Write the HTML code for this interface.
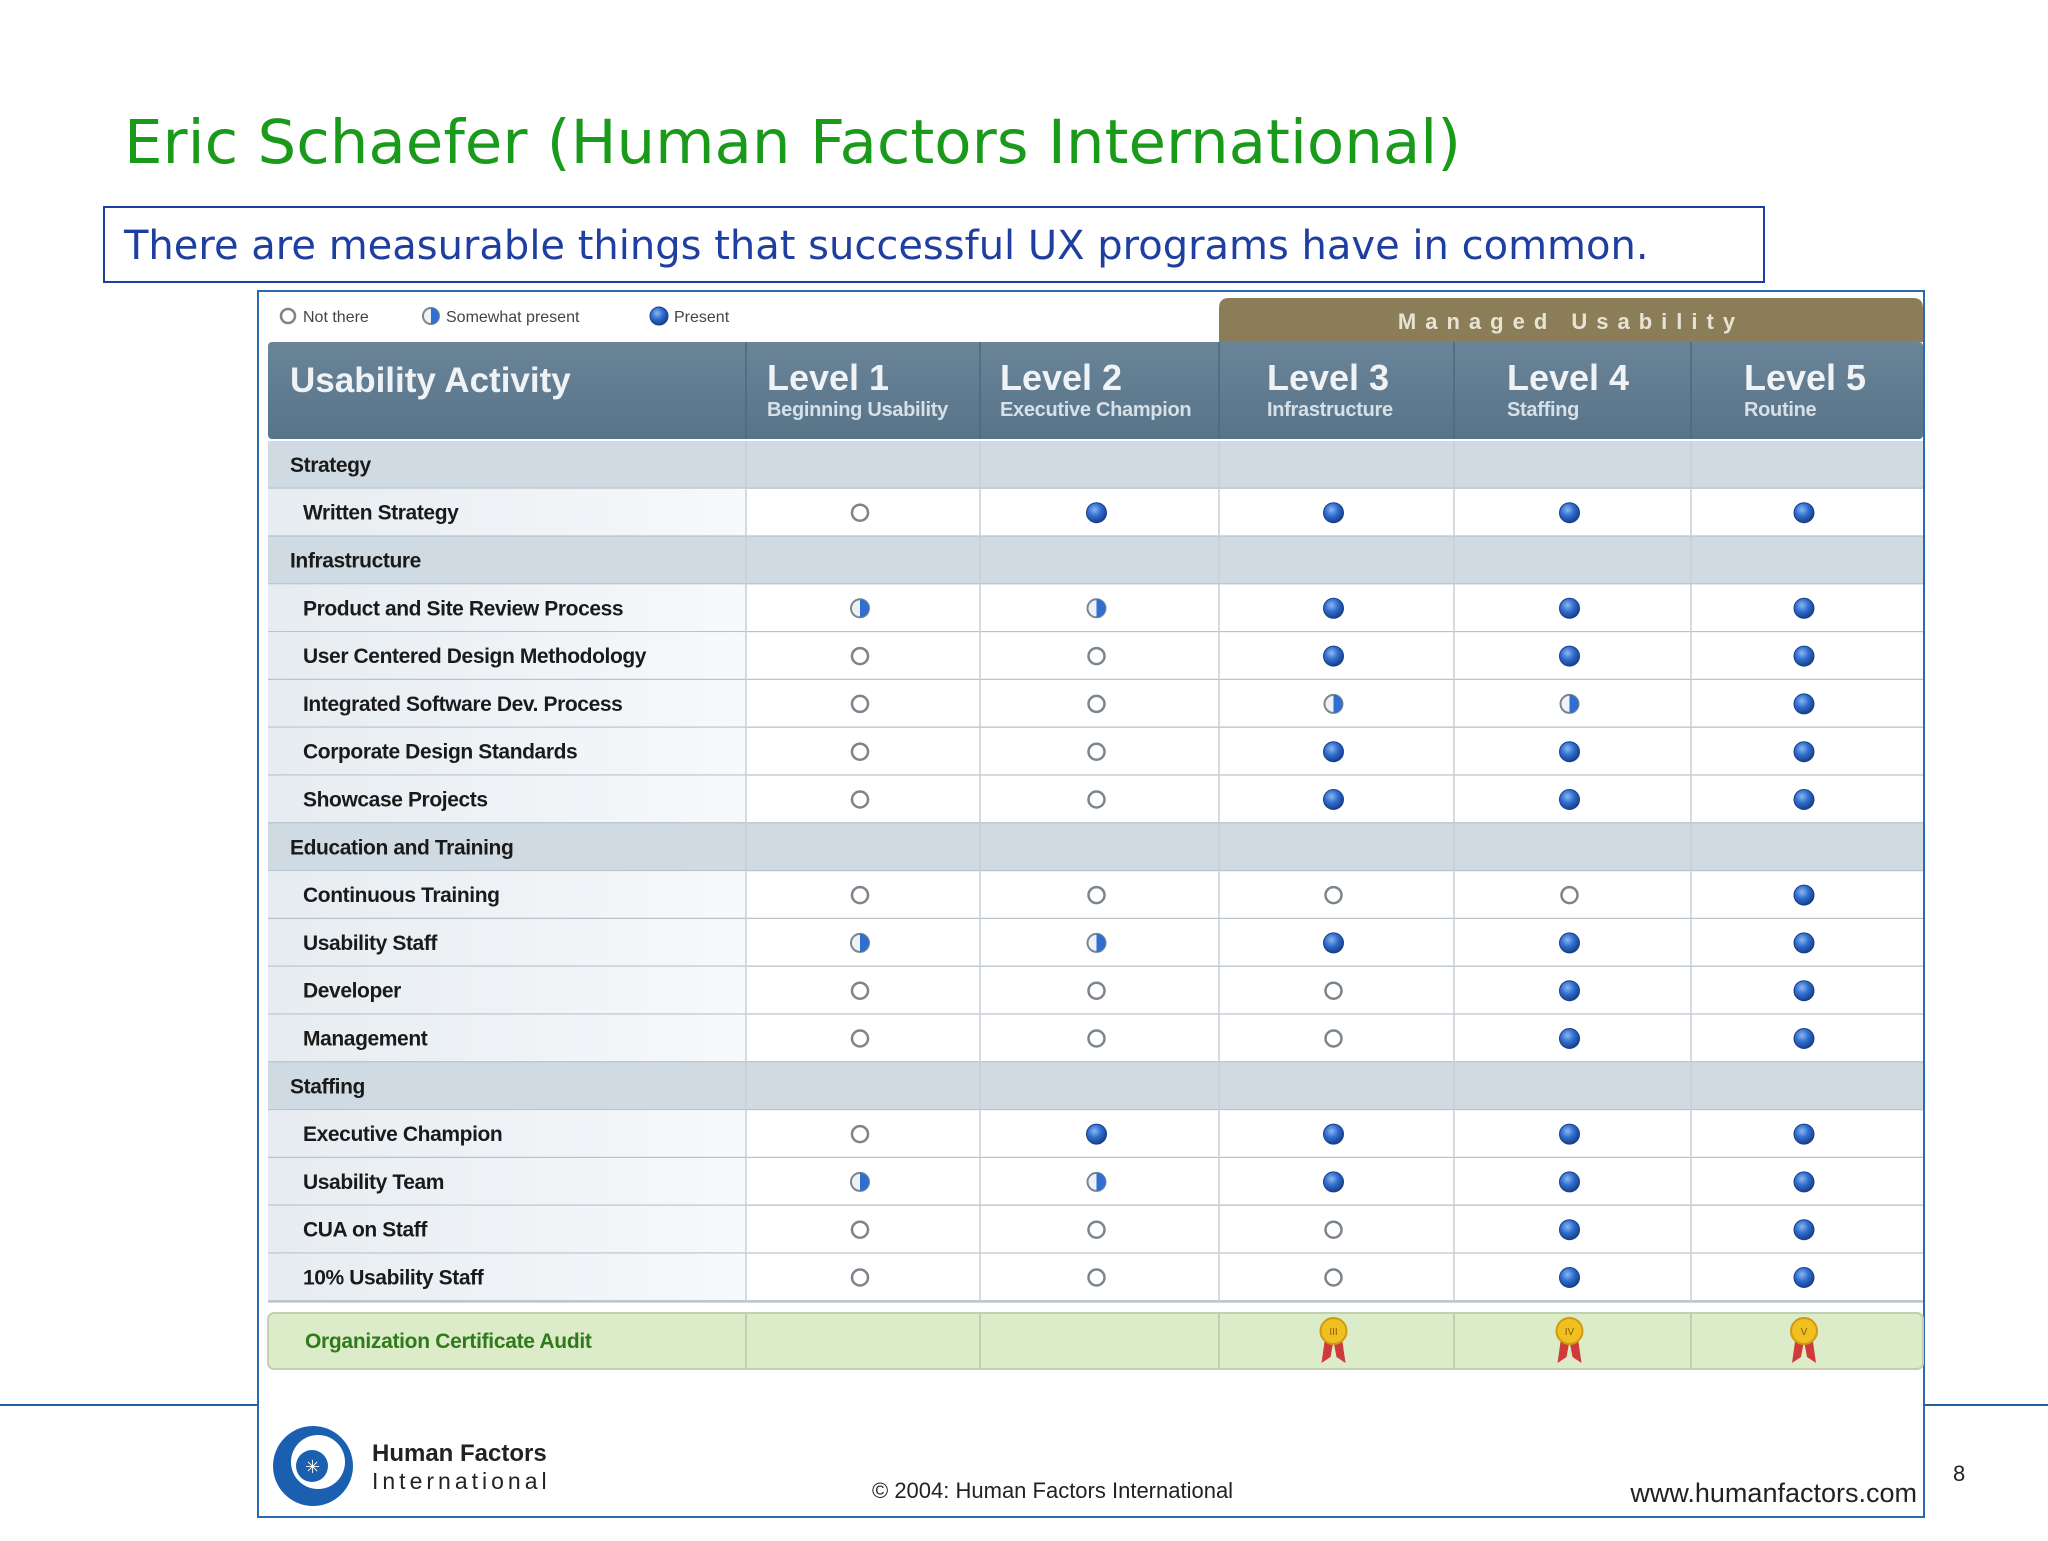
<!DOCTYPE html>
<html><head><meta charset="utf-8"><style>
html,body{margin:0;padding:0;background:#fff;}
body{width:2048px;height:1536px;position:relative;overflow:hidden;font-family:"Liberation Sans",sans-serif;}
</style></head><body>
<svg id="s" width="2048" height="1536" viewBox="0 0 2048 1536" xmlns="http://www.w3.org/2000/svg">
<defs>
<radialGradient id="blue" cx="40%" cy="35%" r="65%"><stop offset="0" stop-color="#8fb6f0"/><stop offset="0.5" stop-color="#2f6fd0"/><stop offset="1" stop-color="#1a3f8a"/></radialGradient>
<linearGradient id="hdr" x1="0" y1="0" x2="0" y2="1"><stop offset="0" stop-color="#6a8498"/><stop offset="1" stop-color="#587489"/></linearGradient>
<linearGradient id="lbl" x1="0" y1="0" x2="1" y2="0"><stop offset="0" stop-color="#e6ecf1"/><stop offset="1" stop-color="#f7f9fb"/></linearGradient>
</defs>
<text x="124" y="163" font-family="'DejaVu Sans',sans-serif" font-size="61" fill="#1a9a1a">Eric Schaefer (Human Factors International)</text>
<rect x="104" y="207" width="1660" height="75" fill="#fff" stroke="#1f3fa0" stroke-width="2"/>
<text x="124" y="259" font-family="'DejaVu Sans',sans-serif" font-size="40" fill="#1f3fa0">There are measurable things that successful UX programs have in common.</text>
<line x1="0" y1="1405" x2="258" y2="1405" stroke="#1f5fa0" stroke-width="2"/>
<line x1="1924" y1="1405" x2="2048" y2="1405" stroke="#1f5fa0" stroke-width="2"/>
<rect x="258" y="291" width="1666" height="1226" fill="#fff" stroke="#2a6ab0" stroke-width="2"/>
<text x="1953" y="1481" font-size="22" fill="#222">8</text>
<g id="tbl"></g>
<g>
<circle cx="313" cy="1466" r="40" fill="#1a5fb0"/>
<circle cx="318" cy="1462" r="27" fill="#fff"/>
<circle cx="312" cy="1466" r="16" fill="#1a5fb0"/>
<text x="305" y="1473" font-size="18" fill="#fff">✳</text>
</g>
<text x="372" y="1461" font-size="24" font-weight="bold" fill="#222">Human Factors</text>
<text x="372" y="1489" font-size="23" letter-spacing="4" fill="#222">International</text>
<text x="872" y="1498" font-size="22" fill="#222">© 2004: Human Factors International</text>
<text x="1917" y="1502" font-size="27" text-anchor="end" fill="#222">www.humanfactors.com</text>
</svg>
<script>
const levels = ["Level 1","Level 2","Level 3","Level 4","Level 5"];
const levelSubs = ["Beginning Usability","Executive Champion","Infrastructure","Staffing","Routine"];
const rowLabels = ["Strategy","Written Strategy","Infrastructure","Product and Site Review Process","User Centered Design Methodology","Integrated Software Dev. Process","Corporate Design Standards","Showcase Projects","Education and Training","Continuous Training","Usability Staff","Developer","Management","Staffing","Executive Champion","Usability Team","CUA on Staff","10% Usability Staff"];
const isSection = [1,0,1,0,0,0,0,0,1,0,0,0,0,1,0,0,0,0];
// 0 = not there, 1 = somewhat present, 2 = present, -1 = section row
const values = [
[-1,-1,-1,-1,-1],[0,2,2,2,2],[-1,-1,-1,-1,-1],[1,1,2,2,2],[0,0,2,2,2],[0,0,1,1,2],[0,0,2,2,2],[0,0,2,2,2],
[-1,-1,-1,-1,-1],[0,0,0,0,2],[1,1,2,2,2],[0,0,0,2,2],[0,0,0,2,2],
[-1,-1,-1,-1,-1],[0,2,2,2,2],[1,1,2,2,2],[0,0,0,2,2],[0,0,0,2,2]];
const certLevels = ["III","IV","V"];
const certStart = 2;

const NS="http://www.w3.org/2000/svg";
const g=document.getElementById('tbl');
function el(t,a,p){const e=document.createElementNS(NS,t);for(const k in a)e.setAttribute(k,a[k]);(p||g).appendChild(e);return e;}
const L=268,R=1923,colX=[268,746,980,1219,1454,1691,1923];
const hTop=342,hBot=439,rowH=47.8,r0=441;
function colC(i){return (colX[i+1]+colX[i+2])/2-3;}
function rowY(i){return r0+i*rowH;}
let e=el('path',{d:`M${colX[3]} ${hTop} L${colX[3]} 308 Q${colX[3]} 298 ${colX[3]+10} 298 L${R-10} 298 Q${R} 298 ${R} 308 L${R} ${hTop} Z`,fill:'#8b7d58'});

e=el('text',{x:(colX[3]+R)/2,y:329,'font-size':22,'font-weight':'bold','letter-spacing':9,fill:'#e8e4d4','text-anchor':'middle'});e.textContent='Managed Usability';

const leg=[["Not there",278,0],["Somewhat present",421,1],["Present",649,2]];
leg.forEach(l=>{drawDot(l[1]+10,316,l[2],9);const t=el('text',{x:l[1]+25,y:322,'font-size':16,fill:'#444'});t.textContent=l[0];
});
e=el('rect',{x:L,y:hTop,width:R-L,height:hBot-hTop,fill:'url(#hdr)',rx:4});

e=el('text',{x:290,y:392,'font-size':35,'font-weight':'bold',fill:'#f0f3f6'});e.textContent='Usability Activity';

const lx=[767,1000,1267,1507,1744];
levels.forEach((lv,i)=>{let t=el('text',{x:lx[i],y:390,'font-size':36,'font-weight':'bold',fill:'#f0f3f6'});t.textContent=lv;

t=el('text',{x:lx[i],y:416,'font-size':20,'font-weight':'bold',fill:'#d7e0e7','letter-spacing':-0.3});t.textContent=levelSubs[i];
});
for(let c=1;c<6;c++){el('line',{x1:colX[c],y1:hTop,x2:colX[c],y2:hBot,stroke:'#4f687b','stroke-width':1.5});}
rowLabels.forEach((lab,i)=>{const y=rowY(i);
 if(isSection[i]){e=el('rect',{x:L,y:y,width:R-L,height:rowH,fill:'#cfdae2'});}
 else{el('rect',{x:L,y:y,width:R-L,height:rowH,fill:'#fff'});e=el('rect',{x:L,y:y,width:colX[1]-L,height:rowH,fill:'url(#lbl)'});}
 
 el('line',{x1:L,y1:y+rowH,x2:R,y2:y+rowH,stroke:'#b9c3cb','stroke-width':2.5});
 const t=el('text',{x:isSection[i]?290:303,y:y+rowH/2+7,'font-size':21,'font-weight':'bold',fill:'#1a1a1a','letter-spacing':-0.4});
 t.textContent=lab;
 values[i].forEach((v,c)=>{if(v>=0)drawDot(colC(c),y+rowH/2,v,10);});
});
for(let c=1;c<6;c++){el('line',{x1:colX[c],y1:r0,x2:colX[c],y2:rowY(rowLabels.length),stroke:'#c7cfd6','stroke-width':1.5});}
const cy=1313;
e=el('rect',{x:L,y:cy,width:R-L,height:56,fill:'#dcebc8',stroke:'#c2d0b0','stroke-width':2,rx:6});

for(let c=1;c<6;c++){el('line',{x1:colX[c],y1:cy,x2:colX[c],y2:cy+56,stroke:'#b9c6a8','stroke-width':1.5});}
e=el('text',{x:305,y:cy+35,'font-size':21,'font-weight':'bold',fill:'#2f7a1a','letter-spacing':-0.3});e.textContent='Organization Certificate Audit';

certLevels.forEach((cl,k)=>{const x=colC(certStart+k);
 const gg=el('g',{});
 el('path',{d:`M${x-8} ${cy+22} L${x-12} ${cy+50} L${x-3} ${cy+44} L${x} ${cy+28} Z`,fill:'#d03a3a'},gg);
 el('path',{d:`M${x+8} ${cy+22} L${x+12} ${cy+50} L${x+3} ${cy+44} L${x} ${cy+28} Z`,fill:'#d03a3a'},gg);
 el('circle',{cx:x,cy:cy+18,r:13,fill:'#f0c020',stroke:'#d09a10','stroke-width':2},gg);
 const t=el('text',{x:x,y:cy+22,'font-size':10,'text-anchor':'middle',fill:'#8a5a00'},gg);t.textContent=cl;});
function drawDot(x,y,v,r){let d;
 if(v===2){d=el('circle',{cx:x,cy:y,r:r,fill:'url(#blue)',stroke:'#1a3f8a','stroke-width':1});}
 else if(v===1){d=el('g',{});el('circle',{cx:x,cy:y,r:r-1,fill:'#eef2f6',stroke:'#7a8590','stroke-width':2},d);
  el('path',{d:`M${x} ${y-r+1} A${r-1} ${r-1} 0 0 1 ${x} ${y+r-1} Z`,fill:'#2f6fd0'},d);}
 else{d=el('circle',{cx:x,cy:y,r:r-2,fill:'#fff',stroke:'#7d858c','stroke-width':2.5});}
 }
</script>
</body></html>
